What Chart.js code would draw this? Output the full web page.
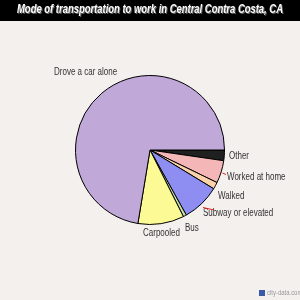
<!DOCTYPE html>
<html>
<head>
<meta charset="utf-8">
<script src="https://cdn.jsdelivr.net/npm/chart.js@4/dist/chart.umd.min.js"></script>
<style>
  html, body { margin: 0; padding: 0; background: #f3f0ed; }
  #wrap { width: 300px; height: 300px; position: relative; }
</style>
</head>
<body>
<div id="wrap"><canvas id="modeChart" width="300" height="300"></canvas></div>
<script>
// ===== data (percent of workers) =====
const modes = ["Other", "Worked at home", "Walked", "Subway or elevated", "Bus", "Carpooled", "Drove a car alone"];
const shares = [2.3, 4.9, 1.5, 8.2, 0.7, 10.0, 72.4];
const sliceColors = ["#202020", "#f4b6b6", "#fcd2a8", "#8e8ef2", "#c2e0a8", "#fcfa94", "#c0a8d8"];
const chartTitle = "Mode of transportation to work in Central Contra Costa, CA";

// label spots beside the pie
const labelSpots = {
    "Other": [229, 156],
    "Worked at home": [227, 177.5],
    "Walked": [218, 196],
    "Subway or elevated": [203, 213.5],
    "Bus": [185, 228.5],
    "Carpooled": [143, 233.5],
    "Drove a car alone": [54, 72]
};

// draws text squeezed horizontally (narrow look of the original)
function narrowText(ctx, text, x, y, sx) {
    ctx.save();
    ctx.translate(x, y);
    ctx.scale(sx, 1);
    ctx.fillText(text, 0, 0);
    ctx.restore();
}

const decorPlugin = {
    id: "decor",
    beforeDraw(chart) {
        const ctx = chart.ctx;
        ctx.save();
        ctx.fillStyle = "#f3f0ed";
        ctx.fillRect(0, 0, chart.width, chart.height);
        // title bar
        ctx.fillStyle = "#000";
        ctx.fillRect(0, 0, chart.width, 21);
        ctx.font = "italic bold 12px 'Liberation Sans', Arial, sans-serif";
        ctx.textAlign = "center";
        ctx.textBaseline = "middle";
        let sx = 266 / ctx.measureText(chartTitle).width;
        ctx.fillStyle = "#666";
        narrowText(ctx, chartTitle, 151, 11, sx);
        ctx.fillStyle = "#fff";
        narrowText(ctx, chartTitle, 150, 10, sx);
        ctx.restore();
    },
    afterDraw(chart) {
        const ctx = chart.ctx;
        ctx.save();
        ctx.font = "10px 'Liberation Sans', Arial, sans-serif";
        ctx.fillStyle = "#333";
        ctx.textAlign = "left";
        ctx.textBaseline = "middle";
        modes.forEach(m => {
            const p = labelSpots[m];
            narrowText(ctx, m, p[0], p[1], 0.8);
        });
        // little red pointer ticks
        ctx.strokeStyle = "#e02020";
        ctx.lineWidth = 1;
        ctx.beginPath();
        ctx.moveTo(222.5, 173); ctx.lineTo(226, 174.5);
        ctx.moveTo(203, 207.5); ctx.lineTo(214, 210);
        ctx.stroke();
        // watermark
        ctx.fillStyle = "#3a5aa8";
        ctx.fillRect(259, 290, 6, 6);
        ctx.font = "7px 'Liberation Sans', Arial, sans-serif";
        ctx.fillStyle = "#999";
        narrowText(ctx, "city-data.com", 267, 293, 0.85);
        ctx.restore();
    }
};

new Chart(document.getElementById("modeChart"), {
    type: "pie",
    data: {
        labels: modes,
        datasets: [{
            data: shares,
            backgroundColor: sliceColors,
            borderColor: "#000",
            borderWidth: 1
        }]
    },
    options: {
        responsive: false,
        animation: false,
        rotation: 90,
        layout: { padding: { left: 75, right: 75, top: 75, bottom: 75 } },
        plugins: {
            legend: { display: false },
            tooltip: { enabled: false },
            title: { display: false }
        }
    },
    plugins: [decorPlugin]
});
</script>
</body>
</html>
